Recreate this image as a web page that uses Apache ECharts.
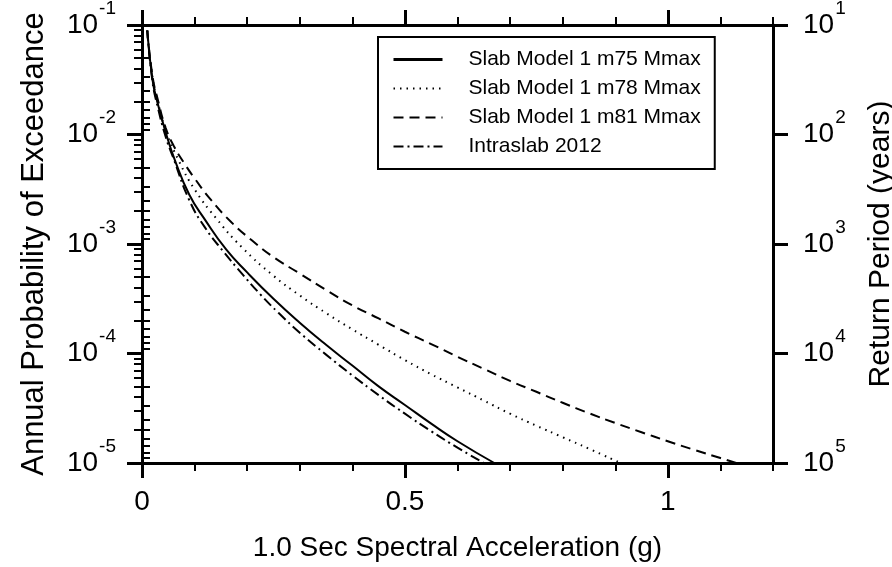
<!DOCTYPE html>
<html>
<head>
<meta charset="utf-8">
<script src="https://cdn.jsdelivr.net/npm/echarts@6/dist/echarts.min.js"></script>
<style>
  html, body { margin: 0; padding: 0; background: #fff; }
  #chart { width: 892px; height: 567px; }
</style>
</head>
<body>
<div id="chart"></div>
<script>
// series names
const seriesNames = [
  "Slab Model 1 m75 Mmax",
  "Slab Model 1 m78 Mmax",
  "Slab Model 1 m81 Mmax",
  "Intraslab 2012"
];

// 1.0 sec spectral acceleration (g) and annual probability of exceedance
const xM75 = [0.01, 0.02, 0.03, 0.045, 0.063, 0.09, 0.12, 0.16, 0.20, 0.25, 0.30, 0.35, 0.40, 0.45, 0.50, 0.55, 0.60, 0.67];
const pM75 = [8.91e-2, 3.16e-2, 1.91e-2, 1.05e-2, 5.75e-3, 2.82e-3, 1.66e-3, 8.91e-4, 5.50e-4, 3.16e-4, 1.91e-4, 1.20e-4, 7.76e-5, 5.01e-5, 3.39e-5, 2.29e-5, 1.58e-5, 1.0e-5];

const xM78 = [0.01, 0.02, 0.03, 0.045, 0.07, 0.10, 0.14, 0.19, 0.25, 0.30, 0.35, 0.40, 0.45, 0.50, 0.55, 0.60, 0.65, 0.70, 0.75, 0.80, 0.85, 0.91];
const pM78 = [8.91e-2, 3.31e-2, 2.00e-2, 1.10e-2, 5.75e-3, 3.16e-3, 1.74e-3, 9.33e-4, 5.13e-4, 3.39e-4, 2.34e-4, 1.66e-4, 1.20e-4, 8.71e-5, 6.46e-5, 4.90e-5, 3.72e-5, 2.82e-5, 2.19e-5, 1.72e-5, 1.35e-5, 1.0e-5];

const xM81 = [0.01, 0.02, 0.03, 0.045, 0.06, 0.08, 0.10, 0.13, 0.17, 0.21, 0.25, 0.30, 0.35, 0.40, 0.45, 0.50, 0.55, 0.60, 0.65, 0.70, 0.75, 0.80, 0.85, 0.90, 0.95, 1.00, 1.05, 1.10, 1.13];
const pM81 = [8.91e-2, 3.39e-2, 2.09e-2, 1.15e-2, 7.94e-3, 5.50e-3, 3.98e-3, 2.57e-3, 1.58e-3, 1.07e-3, 7.59e-4, 5.37e-4, 3.80e-4, 2.75e-4, 2.09e-4, 1.58e-4, 1.22e-4, 9.33e-5, 7.24e-5, 5.62e-5, 4.47e-5, 3.55e-5, 2.85e-5, 2.32e-5, 1.91e-5, 1.58e-5, 1.32e-5, 1.11e-5, 1.0e-5];

const xIntra = [0.01, 0.02, 0.03, 0.045, 0.06, 0.09, 0.12, 0.155, 0.19, 0.225, 0.26, 0.30, 0.35, 0.40, 0.45, 0.50, 0.55, 0.60, 0.65];
const pIntra = [8.91e-2, 3.02e-2, 1.78e-2, 9.55e-3, 6.03e-3, 2.51e-3, 1.41e-3, 8.51e-4, 5.37e-4, 3.47e-4, 2.34e-4, 1.55e-4, 9.77e-5, 6.31e-5, 4.17e-5, 2.82e-5, 1.95e-5, 1.38e-5, 1.0e-5];

// axis ticks
const xMajorTicks = [0, 0.5, 1];
const xMinorTicks = [0.1, 0.2, 0.3, 0.4, 0.6, 0.7, 0.8, 0.9, 1.1, 1.2];
const probDecades = [1e-5, 1e-4, 1e-3, 1e-2, 1e-1];
const periodDecades = [1e1, 1e2, 1e3, 1e4, 1e5];
const minorSteps = [2, 3, 4, 5, 6, 7, 8, 9];

const FONT = "'Liberation Sans', Arial, Helvetica, sans-serif";

// minor ticks between decades
const logMinor = (decades) => {
  const out = [];
  for (let i = 0; i < decades.length - 1; i++) {
    minorSteps.forEach((m) => out.push(+(decades[i] * m).toPrecision(3)));
  }
  return out;
};

const zip = (xs, ys) => xs.map((x, i) => [x, ys[i]]);

const powLabel = (v) => "{b|10}{s|" + Math.round(Math.log10(v)) + "}";
const powRich = {
  b: { fontSize: 28, fontFamily: FONT, color: "#000", lineHeight: 28, verticalAlign: "bottom" },
  s: { fontSize: 19, fontFamily: FONT, color: "#000", lineHeight: 19, verticalAlign: "bottom", padding: [0, 0, 21, 1] },
};

const axisLine = { show: true, onZero: false, lineStyle: { color: "#000", width: 3 } };
const noLine = { show: false };

const xMajor = (pos, withLabel) => ({
  type: "value",
  position: pos,
  min: 0,
  max: 1.2,
  axisLine: axisLine,
  axisTick: { show: true, length: 15, customValues: xMajorTicks, lineStyle: { color: "#000", width: 3 } },
  axisLabel: {
    show: withLabel,
    customValues: xMajorTicks,
    margin: 25,
    fontSize: 28,
    fontFamily: FONT,
    color: "#000",
  },
  splitLine: { show: false },
});

const xMinor = (pos) => ({
  type: "value",
  position: pos,
  min: 0,
  max: 1.2,
  axisLine: noLine,
  axisTick: { show: true, length: 8, customValues: xMinorTicks, lineStyle: { color: "#000", width: 2 } },
  axisLabel: { show: false },
  splitLine: { show: false },
});

const yLog = (pos, min, max, decades, inverse, withLabel) => ({
  type: "log",
  logBase: 10,
  position: pos,
  min: min,
  max: max,
  inverse: inverse,
  axisLine: withLabel ? axisLine : noLine,
  axisTick: withLabel
    ? { show: true, length: 15, customValues: decades, lineStyle: { color: "#000", width: 3 } }
    : { show: true, length: 8, customValues: logMinor(decades), lineStyle: { color: "#000", width: 2 } },
  axisLabel: withLabel
    ? { show: true, customValues: decades, margin: 26, formatter: powLabel, rich: powRich }
    : { show: false },
  splitLine: { show: false },
});

const chart = echarts.init(document.getElementById("chart"));

const leftMajor = yLog("left", 1e-5, 1e-1, probDecades, false, true);
leftMajor.name = "Annual Probability of Exceedance";
leftMajor.nameLocation = "middle";
leftMajor.nameGap = 92;
leftMajor.nameRotate = 90;
leftMajor.nameTextStyle = { fontSize: 31, fontFamily: FONT, color: "#000" };

const rightMajor = yLog("right", 1e1, 1e5, periodDecades, true, true);
rightMajor.axisLabel.margin = 30;
rightMajor.name = "Return Period (years)";
rightMajor.nameLocation = "middle";
rightMajor.nameGap = 93;
rightMajor.nameRotate = 90;
rightMajor.nameTextStyle = { fontSize: 30, fontFamily: FONT, color: "#000" };

const bottomMajor = xMajor("bottom", true);
bottomMajor.name = "1.0 Sec Spectral Acceleration (g)";
bottomMajor.nameLocation = "middle";
bottomMajor.nameGap = 71;
bottomMajor.nameTextStyle = { fontSize: 28, fontFamily: FONT, color: "#000" };

const lineStyles = [
  { color: "#000", width: 2, type: "solid" },
  { color: "#000", width: 2, type: [1.5, 5] },
  { color: "#000", width: 2, type: [10, 6] },
  { color: "#000", width: 2, type: [10, 4, 2, 4] },
];
const seriesData = [zip(xM75, pM75), zip(xM78, pM78), zip(xM81, pM81), zip(xIntra, pIntra)];

chart.setOption({
  animation: false,
  backgroundColor: "#fff",
  textStyle: { fontFamily: FONT },
  grid: { left: 142, right: 119, top: 25, bottom: 104, containLabel: false, outerBoundsMode: "none" },
  xAxis: [bottomMajor, xMinor("bottom"), xMajor("top", false), xMinor("top")],
  yAxis: [
    leftMajor,
    yLog("left", 1e-5, 1e-1, probDecades, false, false),
    rightMajor,
    yLog("right", 1e1, 1e5, periodDecades, true, false),
  ],
  legend: {
    orient: "vertical",
    left: 378,
    top: 37,
    padding: [12, 14, 12, 14],
    itemWidth: 49,
    itemHeight: 20,
    itemGap: 8,
    borderColor: "#000",
    borderWidth: 2,
    backgroundColor: "#fff",
    itemStyle: { opacity: 0 },
    textStyle: { fontSize: 21, lineHeight: 20, fontFamily: FONT, color: "#000", padding: [0, 0, 0, 21] },
    data: seriesNames.map((name, i) => ({
      name: name,
      lineStyle: i === 0 ? { width: 3 } : {},
    })),
  },
  series: seriesNames.map((name, i) => ({
    name: name,
    type: "line",
    xAxisIndex: 0,
    yAxisIndex: 0,
    smooth: true,
    symbol: "none",
    showSymbol: false,
    lineStyle: lineStyles[i],
    itemStyle: { color: "#000" },
    data: seriesData[i],
  })),
});
</script>
</body>
</html>
